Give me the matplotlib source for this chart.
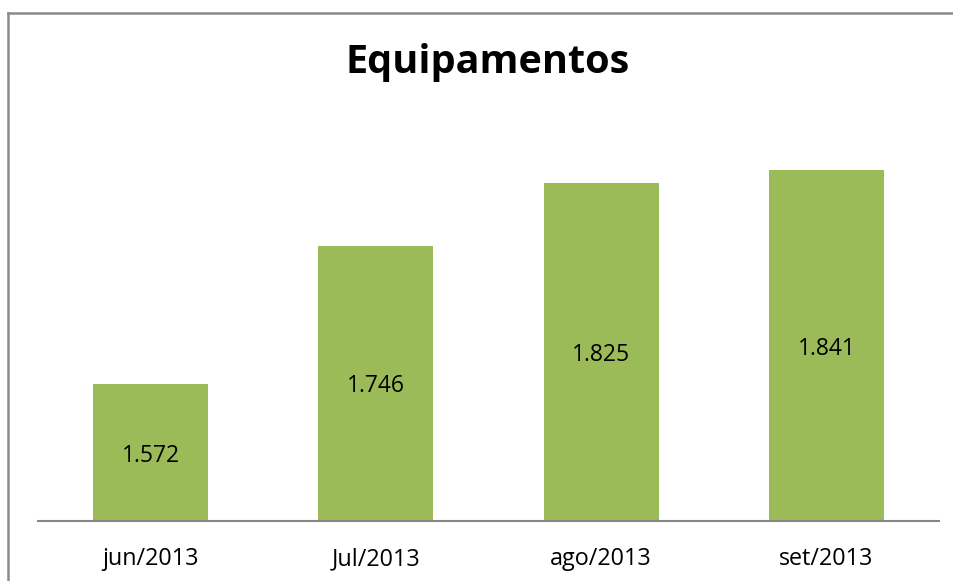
import matplotlib
matplotlib.use("Agg")
import matplotlib.pyplot as plt
from matplotlib.lines import Line2D

plt.rcParams["font.family"] = ["Open Sans", "DejaVu Sans"]

# data
months = ["jun/2013", "Jul/2013", "ago/2013", "set/2013"]
equipamentos = [1.572, 1.746, 1.825, 1.841]
value_labels = ["1.572", "1.746", "1.825", "1.841"]

W, H = 954, 581
fig = plt.figure(figsize=(W / 100, H / 100), dpi=100)

# axes placed in pixel terms: x 38..939, y 123..521
ax = fig.add_axes([38 / W, 1 - 521 / H, (939 - 38) / W, (521 - 123) / H])

xs = range(len(months))
bars = ax.bar(xs, equipamentos, width=0.51, color="#9BBB59", zorder=2)
ax.set_ylim(1.4, 1.9)
ax.set_xlim(-0.5, len(months) - 0.5)

for bar, lab in zip(bars, value_labels):
    mid = (1.4 + bar.get_height()) / 2 - 0.004
    ax.text(bar.get_x() + bar.get_width() / 2, mid, lab,
            ha="center", va="center", fontsize=16.5, color="black")

ax.set_xticks(list(xs))
ax.set_xticklabels(months, fontsize=16.8)
ax.tick_params(axis="x", length=0, pad=19)
ax.set_yticks([])
for side in ["left", "right", "top"]:
    ax.spines[side].set_visible(False)
ax.spines["bottom"].set_color("#868686")
ax.spines["bottom"].set_linewidth(1.5)

fig.text(488 / W, 1 - 63 / H, "Equipamentos", ha="center", va="center",
         fontsize=28.5, fontweight="bold")

# outer chart frame (left and top edges visible in the crop)
fig.add_artist(Line2D([8 / W, 8 / W], [0, 1 - 13 / H], color="#8A8A8A", lw=1.8))
fig.add_artist(Line2D([8 / W, 1], [1 - 13 / H, 1 - 13 / H], color="#8A8A8A", lw=1.8))

fig.savefig("out.png", dpi=100)
